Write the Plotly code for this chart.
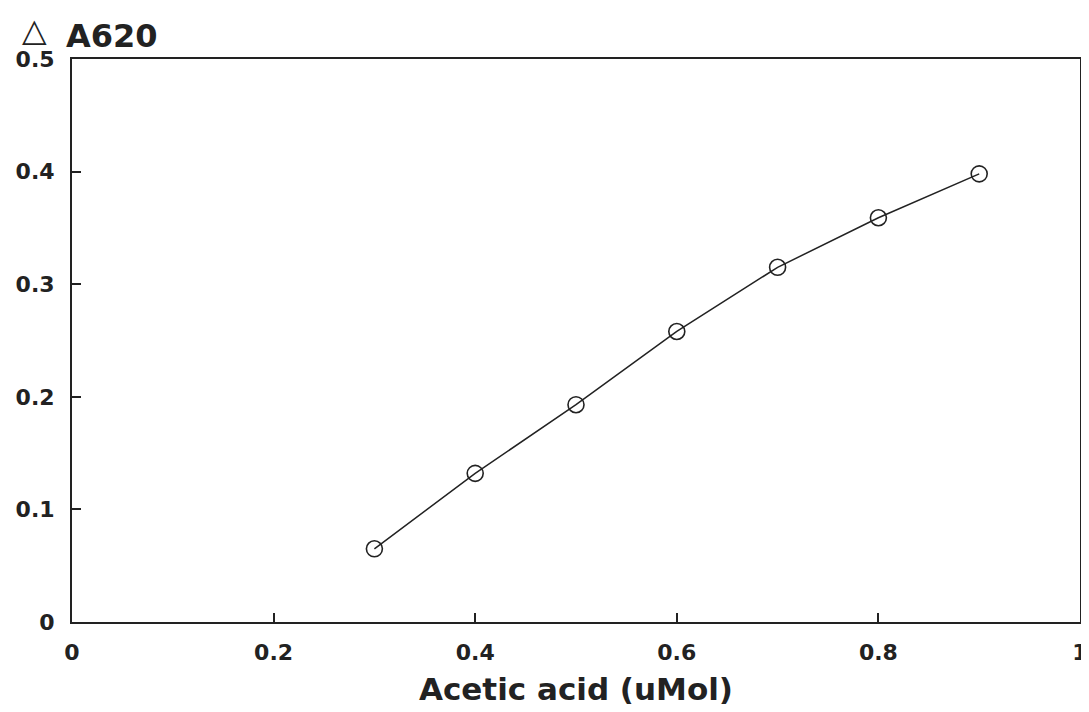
import plotly.graph_objects as go

acetic_acid = [0.3, 0.4, 0.5, 0.6, 0.7, 0.8, 0.9]
delta_a620 = [0.065, 0.132, 0.193, 0.258, 0.315, 0.359, 0.398]
x_ticks = [0, 0.2, 0.4, 0.6, 0.8, 1]
x_tick_labels = ["0", "0.2", "0.4", "0.6", "0.8", "1"]
y_ticks = [0, 0.1, 0.2, 0.3, 0.4, 0.5]
y_tick_labels = ["0", "0.1", "0.2", "0.3", "0.4", "0.5"]

ink = "#222222"
font_family = "DejaVu Sans, Verdana, sans-serif"

# page body has an 8px margin; figure is sized to fit the 1089x712 window
W, H = 1081, 704
L, R, T, B = 64, 9, 51, 90

fig = go.Figure()
fig.add_trace(go.Scatter(
    x=acetic_acid, y=delta_a620, mode="lines+markers",
    line=dict(color=ink, width=1.5),
    marker=dict(symbol="circle-open", size=16, color=ink, line=dict(width=1.6, color=ink)),
    showlegend=False,
))

fig.update_layout(
    width=W, height=H,
    margin=dict(l=L, r=R, t=T, b=B, autoexpand=False),
    paper_bgcolor="white", plot_bgcolor="white",
    font=dict(family=font_family, color=ink),
)
fig.update_xaxes(
    range=[0, 1], tickvals=x_ticks, ticktext=x_tick_labels,
    showline=True, linecolor=ink, linewidth=2, mirror=True,
    ticks="inside", ticklen=9, tickwidth=1.5, tickcolor=ink,
    showgrid=False, zeroline=False, automargin=False,
    tickfont=dict(size=22, weight="bold", family=font_family),
    ticklabelstandoff=10, ticklabeloverflow="allow",
    title=dict(text="Acetic acid (uMol)", font=dict(size=31, weight="bold", family=font_family), standoff=14),
)
fig.update_yaxes(
    range=[0, 0.5], tickvals=y_ticks, ticktext=y_tick_labels,
    showline=True, linecolor=ink, linewidth=2, mirror=True,
    ticks="inside", ticklen=9, tickwidth=1.5, tickcolor=ink,
    showgrid=False, zeroline=False, automargin=False,
    tickfont=dict(size=22, weight="bold", family=font_family),
    ticklabelstandoff=11, ticklabeloverflow="allow",
)
plot_w = W - L - R
plot_h = H - T - B
fig.add_annotation(
    xref="paper", yref="paper",
    x=(13 - L) / plot_w, y=1 + (T - 42) / plot_h,
    xanchor="left", yanchor="bottom",
    text="△", showarrow=False, borderpad=0,
    font=dict(size=32, family=font_family, color=ink),
)
fig.add_annotation(
    xref="paper", yref="paper",
    x=(56 - L) / plot_w, y=1 + (T - 28) / plot_h,
    xanchor="left", yanchor="middle",
    text="A620", showarrow=False,
    font=dict(size=32, weight="bold", family=font_family, color=ink),
)
fig.write_html("out.html")
